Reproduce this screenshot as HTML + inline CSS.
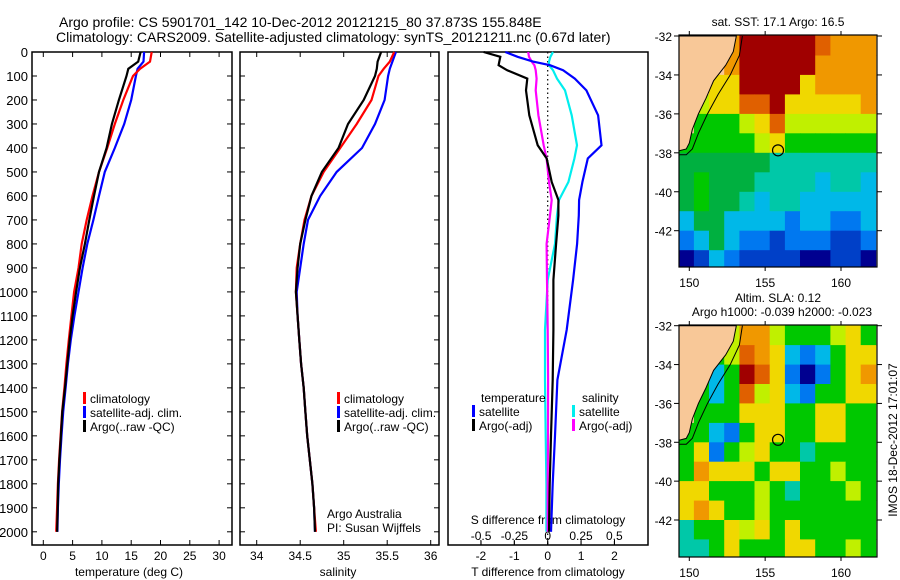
<!DOCTYPE html>
<html><head><meta charset="utf-8"><style>
html,body{margin:0;padding:0;background:#fff}
svg{display:block;font-family:"Liberation Sans",sans-serif}
</style></head><body>
<svg id="fig" width="900" height="580" viewBox="0 0 900 580" xmlns="http://www.w3.org/2000/svg">
<defs>
<clipPath id="cm1"><rect x="679" y="35" width="198" height="232"/></clipPath>
<clipPath id="cm2"><rect x="679" y="325" width="198" height="232"/></clipPath>
</defs>
<text x="59" y="27" font-size="14">Argo profile: CS 5901701_142 10-Dec-2012 20121215_80 37.873S 155.848E</text>
<text x="56" y="42" font-size="14">Climatology: CARS2009. Satellite-adjusted climatology: synTS_20121211.nc (0.67d later)</text>
<g id="plots"></g>
</svg>
<script>
// ---- data ----
const depthT = [0,40,70,100,200,300,400,500,600,700,800,900,1000,1100,1200,1300,1400,1500,1600,1700,1800,1900,2000];
const tempClim = [18.5,18.2,16.5,15.3,13.65,12.2,10.9,9.5,8.4,7.4,6.55,6.0,5.25,4.8,4.35,3.95,3.6,3.2,2.95,2.7,2.5,2.35,2.2];
const tempSat  = [17.2,17.1,16.1,15.8,15.0,13.8,12.2,10.5,9.5,8.55,7.5,6.7,6.0,5.3,4.7,4.2,3.8,3.4,3.1,2.85,2.65,2.5,2.4];
const tempArgo = [16.6,16.2,14.5,14.2,12.9,11.7,10.8,9.5,8.65,7.85,7.1,6.25,5.6,5.0,4.5,4.1,3.7,3.25,3.0,2.75,2.55,2.45,2.35];
const salClim = [35.58,35.53,35.46,35.40,35.32,35.15,34.96,34.77,34.63,34.55,34.50,34.46,34.45,34.47,34.49,34.51,34.54,34.56,34.58,34.61,34.64,34.66,34.68];
const salSat  = [35.6,35.56,35.53,35.51,35.47,35.36,35.21,34.92,34.73,34.59,34.54,34.50,34.46,34.47,34.49,34.51,34.54,34.56,34.58,34.61,34.64,34.66,34.67];
const salArgo = [35.43,35.39,35.38,35.36,35.23,35.05,34.94,34.75,34.63,34.56,34.50,34.47,34.45,34.47,34.49,34.51,34.54,34.56,34.58,34.61,34.64,34.66,34.67];
const depthD = [0,20,40,55,76,111,160,264,389,444,542,617,681,800,950,1158,1367,1600,1800,2000];
const dTsat  = [-1.27,-0.9,-0.44,0.07,0.46,0.81,1.16,1.51,1.61,1.2,1.04,0.94,0.93,0.88,0.76,0.57,0.29,0.22,0.15,0.1];
const dTargo = [-1.92,-1.42,-1.45,-1.47,-1.22,-0.61,-0.65,-0.55,-0.3,-0.03,0.12,0.32,0.32,0.25,0.17,0.17,0.15,0.1,0.06,0.04];
const dSsat  = [0.04,0.02,0.01,0.01,0.04,0.07,0.13,0.18,0.22,0.2,0.155,0.085,0.07,0.055,0.0,-0.02,-0.02,-0.015,-0.01,-0.01];
const dSargo = [-0.146,-0.14,-0.12,-0.1,-0.09,-0.083,-0.09,-0.07,-0.03,-0.008,0.01,0.03,0.017,-0.008,-0.005,0,0.003,0.002,0,0];
const depthTicks = [0,100,200,300,400,500,600,700,800,900,1000,1100,1200,1300,1400,1500,1600,1700,1800,1900,2000];
const tTicks = [0,5,10,15,20,25,30];
const sTicks = [34,34.5,35,35.5,36];
const dtTicks = [-2,-1,0,1,2];
const dsTicks = [-0.5,-0.25,0,0.25,0.5];
const dsTickLabels = ["-0.5","-0.25","0","0.25","0.5"];
const sstGrid = [
"LLLORRRRRoOOO","LLLORRRRROOOO","LLYYRRRRYOOOO","LyYYooRYYYYYO","LGGGyYoyyyyyy","GGGGGyYGGGGGG",
"ggggggTTTTTTT","gGgggTTTTCTTC","gGggTCTTCCCCC","CggCCCCBCCBBC","BCgCBBbBBBbbB","NbCBbbbbNNbbN"];
const slaGrid = [
"LLLyOOyGGGyYG","LLGyoOYCBCGYY","LGCGRoYBNBGYO","LGCGoyYCBGGYY","LGGGYYYGGYYGG","GGCBGYYGGYYGG",
"GYBGyYGGTGGGG","GOYYYGYYGGyGG","YYGGGyGTGGGyG","YOYGGyGGGGGGG","TGGYyYGYGGGGG","TTGYGGGYYGGyG"];
const latTicks = [-32,-34,-36,-38,-40,-42];
const lonTicks = [150,155,160];
const argoLon = 155.848, argoLat = -37.873;
const coast = [[149.3,-32],[153.1,-32],[152.9,-32.8],[152.4,-33.5],[151.6,-34.3],[151.1,-35.2],[150.6,-36],[150.2,-36.8],[150,-37.5],[149.8,-37.8],[149.3,-37.9]];
const iso = [[153.5,-32],[153.3,-33],[152.7,-34],[151.9,-35],[151.2,-36],[150.6,-37],[150.2,-37.8],[149.8,-38.1],[149.3,-38.1]];

// ---- helpers ----
const NS="http://www.w3.org/2000/svg";
const root=document.getElementById('plots');
function el(tag,attrs,parent){const e=document.createElementNS(NS,tag);for(const k in attrs)e.setAttribute(k,attrs[k]);(parent||root).appendChild(e);return e;}
function txt(x,y,s,size,anchor,parent){const t=el('text',{x:x,y:y,'font-size':size,'text-anchor':anchor||'start'},parent);t.textContent=s;return t;}
const yD = d => 52 + 0.2399*d;
const xT = v => 43.3 + 5.86*v;
const xS = v => 256.7 + 87*(v-34);
const xDT = v => 547.7 + 33.4*v;
const xDS = v => 547.7 + 133.3*v;

function frame(x0,x1,name){
  const r=el('rect',{x:x0,y:52,width:x1-x0,height:493,fill:'none',stroke:'#000','stroke-width':1.5});
  
  
}
function xticks(vals,labels,fx,y,size,top){
  vals.forEach((v,i)=>{
    const x=fx(v);
    el('line',{x1:x,x2:x,y1:545,y2:540,stroke:'#000'});
    if(top) el('line',{x1:x,x2:x,y1:52,y2:57,stroke:'#000'});
    const t=txt(x,y,labels[i],size,'middle');
    
    
  });
}
function line(depths,vals,fx,color,w,name){
  const pts=depths.map((d,i)=>fx(vals[i]).toFixed(1)+','+yD(d).toFixed(1)).join(' ');
  const p=el('polyline',{points:pts,fill:'none',stroke:color,'stroke-width':w,'stroke-linejoin':'miter'});
  
  
}
function legendEntry(bx,y,color,label){
  const g=el('g',{});
  
  
  el('rect',{x:bx,y:y-11,width:3,height:12,fill:color},g);
  txt(bx+7,y,label,12,'start',g);
}

// ---- panel 1: temperature ----
frame(32,232,'temperature-panel');
depthTicks.forEach(d=>{
  const y=yD(d);
  el('line',{x1:32,x2:37,y1:y,y2:y,stroke:'#000'});
  el('line',{x1:232,x2:227,y1:y,y2:y,stroke:'#000'});
  el('line',{x1:240,x2:245,y1:y,y2:y,stroke:'#000'});
  el('line',{x1:439,x2:434,y1:y,y2:y,stroke:'#000'});
  const t=txt(28,y+5,String(d),13,'end');
  
  
});
xticks(tTicks,tTicks.map(String),xT,560,12,true);
txt(129,576,'temperature (deg C)',12,'middle');
line(depthT,tempSat,xT,'#0000ff',2.2,'temp-satellite-line');
line(depthT,tempClim,xT,'#ff0000',2.2,'temp-climatology-line');
line(depthT,tempArgo,xT,'#000000',2.2,'temp-argo-line');
legendEntry(83,403,'#ff0000','climatology');
legendEntry(83,417,'#0000ff','satellite-adj. clim.');
legendEntry(83,431,'#000000','Argo(..raw -QC)');

// ---- panel 2: salinity ----
frame(240,439,'salinity-panel');
xticks(sTicks,["34","34.5","35","35.5","36"],xS,560,12,true);
txt(338,576,'salinity',12,'middle');
line(depthT,salSat,xS,'#0000ff',2.2,'sal-satellite-line');
line(depthT,salClim,xS,'#ff0000',2.2,'sal-climatology-line');
line(depthT,salArgo,xS,'#000000',2.2,'sal-argo-line');
legendEntry(337,403,'#ff0000','climatology');
legendEntry(337,417,'#0000ff','satellite-adj. clim.');
legendEntry(337,431,'#000000','Argo(..raw -QC)');
txt(327,518,'Argo Australia',12);
txt(327,532,'PI: Susan Wijffels',12);

// ---- panel 3: differences ----
frame(448,648,'difference-panel');
xticks(dtTicks,dtTicks.map(String),xDT,560,12,false);
dsTicks.forEach((v,i)=>{const x=xDS(v);el('line',{x1:x,x2:x,y1:545,y2:541,stroke:'#000'});
  const t=txt(x,540,dsTickLabels[i],12,'middle');});
txt(548,524,'S difference from climatology',12,'middle');
txt(548,576,'T difference from climatology',12,'middle');
el('line',{x1:547.7,x2:547.7,y1:52,y2:545,stroke:'#000','stroke-dasharray':'1.5,3','stroke-width':1.2});
line(depthD,dSsat,xDS,'#00eeee',2.2,'sal-diff-satellite-line');
line(depthD,dSargo,xDS,'#ff00ff',2.2,'sal-diff-argo-line');
line(depthD,dTsat,xDT,'#0000ff',2.2,'temp-diff-satellite-line');
line(depthD,dTargo,xDT,'#000000',2.2,'temp-diff-argo-line');
txt(481,402,'temperature',12);
txt(582,402,'salinity',12);
legendEntry(472,416,'#0000ff','satellite');
legendEntry(472,430,'#000000','Argo(-adj)');
legendEntry(572,416,'#00eeee','satellite');
legendEntry(572,430,'#ff00ff','Argo(-adj)');

// ---- maps ----
const pal={L:'#f8c898',R:'#a00000',o:'#e06000',O:'#f09800',Y:'#f0d800',y:'#c0f000',G:'#00c800',g:'#00b040',T:'#00c8a8',C:'#00b8e8',B:'#0078f0',b:'#0040c8',N:'#000090'};
function map(top,grid,clip,name,latY){
  const g=el('g',{'clip-path':'url(#'+clip+')'});
  
  
  const lx=l=>689.3+15.17*(l-150);
  grid.forEach((row,j)=>{[...row].forEach((c,i)=>{
    const x0=lx(149.3+i);
    const yt=(j===0?top:latY(-32-j));
    el('rect',{x:x0.toFixed(1),y:yt.toFixed(1),width:15.6,height:(latY(-33-j)-yt+0.5).toFixed(1),fill:pal[c]},g);
  });});
  el('polygon',{points:coast.map(p=>lx(p[0])+','+latY(p[1])).join(' ')+' '+lx(149.3)+','+(top),fill:pal.L,stroke:'#000','stroke-width':1},g);
  el('polyline',{points:iso.map(p=>lx(p[0])+','+latY(p[1])).join(' '),fill:'none',stroke:'#000','stroke-width':1},g);
  const c=el('circle',{cx:lx(argoLon),cy:latY(argoLat),r:5.5,fill:'none',stroke:'#000','stroke-width':1.2});
  
  
  el('rect',{x:679,y:top,width:198,height:232,fill:'none',stroke:'#000','stroke-width':1.2});
  latTicks.forEach(v=>{const y=latY(v);el('line',{x1:679,x2:674,y1:y,y2:y,stroke:'#000'});el('line',{x1:877,x2:882,y1:y,y2:y,stroke:'#000'});
    const t=txt(672,y+5,String(v),12,'end');});
  lonTicks.forEach(v=>{const x=lx(v);el('line',{x1:x,x2:x,y1:top,y2:top-4,stroke:'#000'});el('line',{x1:x,x2:x,y1:top+232,y2:top+236,stroke:'#000'});
    const t=txt(x,top+252,String(v),12,'middle');});
}
map(35,sstGrid,'cm1','sst-map',lat=>36+19.47*(-32-lat));
map(325,slaGrid,'cm2','sla-map',lat=>325.7+19.43*(-32-lat));
txt(778,26,'sat. SST: 17.1 Argo: 16.5',12,'middle');
txt(778,302,'Altim. SLA: 0.12',12,'middle');
txt(782,316,'Argo h1000: -0.039 h2000: -0.023',12,'middle');
const v=txt(0,0,'IMOS 18-Dec-2012 17:01:07',12,'middle');
v.setAttribute('transform','translate(897,440) rotate(-90)');


</script>
</body></html>
